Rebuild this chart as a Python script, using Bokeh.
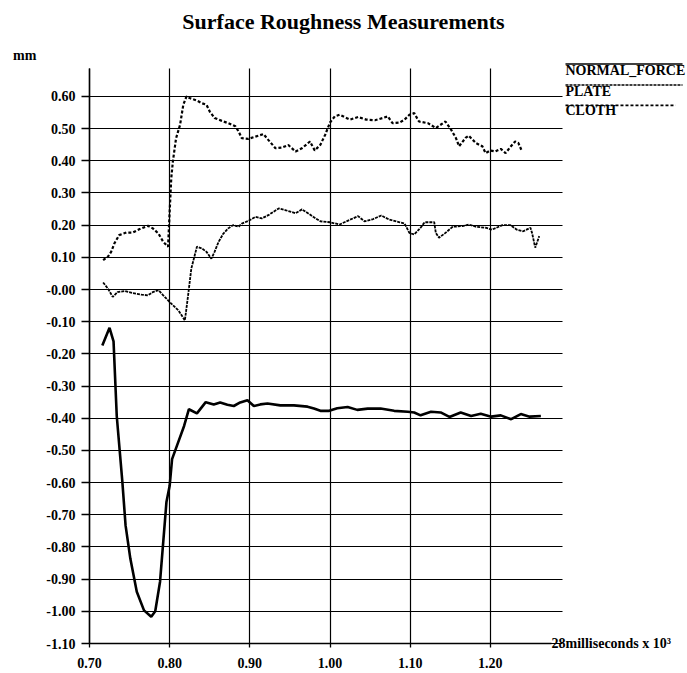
from bokeh.plotting import figure
from bokeh.models import Range1d, FixedTicker, NumeralTickFormatter, Label
from bokeh.embed import file_html
from bokeh.resources import INLINE

# ---------------- data ----------------
X_TICKS = [0.70, 0.80, 0.90, 1.00, 1.10, 1.20]
Y_TICKS = [0.60, 0.50, 0.40, 0.30, 0.20, 0.10, 0.00, -0.10, -0.20, -0.30, -0.40,
           -0.50, -0.60, -0.70, -0.80, -0.90, -1.00, -1.10]
Y_TICK_LABELS = ["0.60", "0.50", "0.40", "0.30", "0.20", "0.10", "-0.00", "-0.10",
                 "-0.20", "-0.30", "-0.40", "-0.50", "-0.60", "-0.70", "-0.80",
                 "-0.90", "-1.00", "-1.10"]

SERIES_NAMES = ["NORMAL_FORCE", "PLATE", "CLOTH"]

NF_X = [0.716, 0.725, 0.730, 0.734, 0.741, 0.745, 0.751, 0.759, 0.768, 0.777,
        0.782, 0.788, 0.793, 0.796, 0.800, 0.803, 0.809, 0.818, 0.824, 0.834,
        0.845, 0.855, 0.863, 0.872, 0.880, 0.888, 0.897, 0.905, 0.913, 0.922,
        0.938, 0.955, 0.972, 0.980, 0.988, 0.999, 1.009, 1.022, 1.034, 1.047,
        1.063, 1.080, 1.097, 1.105, 1.113, 1.126, 1.138, 1.149, 1.163, 1.176,
        1.188, 1.201, 1.213, 1.226, 1.238, 1.249, 1.263]
NF_Y = [-0.174, -0.119, -0.161, -0.393, -0.598, -0.733, -0.837, -0.939, -0.997, -1.017,
        -1.000, -0.908, -0.753, -0.660, -0.610, -0.527, -0.486, -0.424, -0.372, -0.385,
        -0.350, -0.357, -0.351, -0.358, -0.362, -0.351, -0.344, -0.362, -0.357, -0.354,
        -0.360, -0.360, -0.364, -0.370, -0.377, -0.377, -0.369, -0.365, -0.374, -0.370,
        -0.370, -0.377, -0.380, -0.382, -0.391, -0.380, -0.382, -0.396, -0.382, -0.393,
        -0.386, -0.395, -0.391, -0.403, -0.387, -0.395, -0.393]

PL_X = [0.717, 0.723, 0.729, 0.735, 0.744, 0.754, 0.765, 0.773, 0.779, 0.786,
        0.792, 0.800, 0.811, 0.819, 0.823, 0.827, 0.834, 0.840, 0.846, 0.852,
        0.856, 0.861, 0.867, 0.873, 0.879, 0.886, 0.890, 0.898, 0.907, 0.915,
        0.923, 0.936, 0.944, 0.957, 0.965,
        0.975, 0.979, 0.988, 1.000, 1.012, 1.025, 1.035, 1.043, 1.054, 1.064,
        1.074, 1.087, 1.093, 1.099, 1.105, 1.113, 1.118, 1.130, 1.132, 1.136,
        1.144, 1.153, 1.165, 1.173, 1.182, 1.194, 1.202, 1.215, 1.225, 1.233,
        1.241, 1.250, 1.252, 1.256, 1.261]
PL_Y = [0.022, 0.003, -0.023, -0.008, -0.005, -0.011, -0.016, -0.018, -0.008, -0.002,
        -0.018, -0.039, -0.065, -0.096, -0.018, 0.065, 0.133, 0.128, 0.117, 0.096,
        0.117, 0.148, 0.174, 0.190, 0.200, 0.195, 0.205, 0.213, 0.226, 0.221,
        0.231, 0.252, 0.247, 0.237, 0.249,
        0.233, 0.226, 0.212, 0.209, 0.202, 0.217, 0.228, 0.212, 0.219, 0.230,
        0.217, 0.209, 0.205, 0.176, 0.171, 0.192, 0.209, 0.209, 0.176, 0.161,
        0.176, 0.195, 0.197, 0.202, 0.195, 0.192, 0.186, 0.200, 0.200, 0.186,
        0.181, 0.192, 0.176, 0.130, 0.166]

CL_X = [0.717, 0.723, 0.727, 0.731, 0.737, 0.746, 0.754, 0.762, 0.773, 0.779,
        0.786, 0.792, 0.798, 0.800, 0.802, 0.804, 0.808, 0.813, 0.817, 0.821,
        0.825, 0.834, 0.840, 0.846, 0.850, 0.856, 0.865, 0.873, 0.882, 0.886,
        0.890, 0.898, 0.907, 0.917, 0.923, 0.932, 0.940, 0.948, 0.957, 0.965,
        0.975, 0.981, 0.988, 0.994, 1.000, 1.006, 1.012, 1.025, 1.035, 1.045,
        1.056, 1.066, 1.072, 1.078, 1.087, 1.093, 1.099, 1.105, 1.111, 1.122,
        1.132, 1.138, 1.144, 1.151, 1.157, 1.161, 1.169, 1.173, 1.182, 1.190,
        1.194, 1.200, 1.206, 1.213, 1.219, 1.225, 1.231, 1.235, 1.239]
CL_Y = [0.091, 0.102, 0.117, 0.143, 0.169, 0.177, 0.177, 0.187, 0.198, 0.190,
        0.174, 0.148, 0.133, 0.242, 0.346, 0.398, 0.470, 0.512, 0.574, 0.600,
        0.595, 0.587, 0.579, 0.574, 0.553, 0.533, 0.524, 0.517, 0.507, 0.491,
        0.470, 0.468, 0.475, 0.483, 0.465, 0.439, 0.441, 0.449, 0.429, 0.439,
        0.460, 0.432, 0.450, 0.481, 0.519, 0.538, 0.543, 0.528, 0.536, 0.528,
        0.526, 0.533, 0.538, 0.517, 0.519, 0.528, 0.543, 0.548, 0.522, 0.517,
        0.502, 0.512, 0.522, 0.497, 0.471, 0.445, 0.471, 0.478, 0.455, 0.445,
        0.424, 0.432, 0.429, 0.437, 0.424, 0.443, 0.460, 0.455, 0.432]

# ---------------- layout constants ----------------
FONT = "Liberation Serif"
X0, X_AXIS_END, X_GRID_END = 0.70, 1.276, 1.29     # axis origin / extents
Y0, Y_TOP = -1.10, 0.687

# The frame fills the whole canvas; axes are drawn at fixed data locations,
# so every text can live inside the frame.
p = figure(width=687, height=673, output_backend="svg", toolbar_location=None,
           x_range=Range1d(0.5890, 1.4459), y_range=Range1d(-1.1932, 0.8981),
           min_border=0)
p.title.visible = False
p.outline_line_color = None
p.background_fill_color = "white"
p.border_fill_color = "white"

for ax in (p.xaxis, p.yaxis):
    ax.axis_line_color = "black"
    ax.axis_line_width = 1.5
    ax.major_tick_line_color = "black"
    ax.major_tick_line_width = 1.3
    ax.major_tick_in = 0
    ax.minor_tick_line_color = None
    ax.major_label_text_font = FONT
    ax.major_label_text_font_style = "bold"
    ax.major_label_text_font_size = "14px"
    ax.major_label_text_color = "black"

p.xaxis.fixed_location = Y0
p.xaxis.ticker = FixedTicker(ticks=X_TICKS)
p.xaxis.formatter = NumeralTickFormatter(format="0.00")
p.xaxis.bounds = (X0, X_AXIS_END)
p.xaxis.major_tick_out = 4
p.xaxis.major_label_standoff = 10

p.yaxis.fixed_location = X0
p.yaxis.ticker = FixedTicker(ticks=Y_TICKS)
p.yaxis.major_label_overrides = dict(zip(Y_TICKS, Y_TICK_LABELS))
p.yaxis.bounds = (Y0, Y_TOP)
p.yaxis.major_tick_out = 8
p.yaxis.major_label_standoff = 6

# grid lines limited to the plotting area
p.xgrid.ticker = FixedTicker(ticks=X_TICKS)
p.ygrid.ticker = FixedTicker(ticks=Y_TICKS)
for g in (p.xgrid, p.ygrid):
    g.grid_line_color = "black"
    g.grid_line_width = 1.2
    g.grid_line_alpha = 1.0
try:
    p.xgrid.cross_bounds = (Y0, Y_TOP)
    p.ygrid.cross_bounds = (X0, X_GRID_END)
except AttributeError:
    p.xgrid.visible = False
    p.ygrid.visible = False
    p.segment(x0=X_TICKS, x1=X_TICKS, y0=Y0, y1=Y_TOP, line_color="black", line_width=1.2)
    p.segment(x0=X0, x1=X_GRID_END, y0=Y_TICKS, y1=Y_TICKS, line_color="black", line_width=1.2)

# series
STYLES = [dict(line_width=2.6, line_dash="solid"),
          dict(line_width=1.8, line_dash="3 1"),
          dict(line_width=2.2, line_dash="3 2")]
for xs, ys, st in zip((NF_X, PL_X, CL_X), (NF_Y, PL_Y, CL_Y), STYLES):
    p.line(xs, ys, line_color="black", **st)

# title and axis texts
p.add_layout(Label(x=1.0168, y=0.833, text="Surface Roughness Measurements",
                   text_align="center", text_baseline="middle", text_font=FONT,
                   text_font_style="bold", text_font_size="22px", text_color="black"))
p.add_layout(Label(x=0.6046, y=0.727, text="mm", text_align="left",
                   text_baseline="middle", text_font=FONT, text_font_style="bold",
                   text_font_size="14px", text_color="black"))
p.add_layout(Label(x=1.2763, y=Y0, text="28milliseconds x 10\u00b3",
                   text_align="left", text_baseline="alphabetic", text_font=FONT,
                   text_font_style="bold", text_font_size="14px", text_color="black"))

# legend: line sample drawn above each label
LEG_X0 = 1.2937
LEG_TEXT_Y = [0.6806, 0.6154, 0.5563]
LEG_LINE_Y = [0.7008, 0.6356, 0.5719]
LEG_LINE_X1 = [1.4397, 1.4397, 1.4310]
LEG_LW = [1.5, 1.5, 1.8]
for name, ty, ly, lx1, lw, st in zip(SERIES_NAMES, LEG_TEXT_Y, LEG_LINE_Y,
                                     LEG_LINE_X1, LEG_LW, STYLES):
    p.line([LEG_X0, lx1], [ly, ly], line_color="black", line_width=lw,
           line_dash=st["line_dash"])
    p.add_layout(Label(x=LEG_X0, y=ty, text=name, text_align="left",
                       text_baseline="middle", text_font=FONT, text_font_style="bold",
                       text_font_size="14px", text_color="black"))

open("out.html", "w").write(file_html(p, INLINE))
